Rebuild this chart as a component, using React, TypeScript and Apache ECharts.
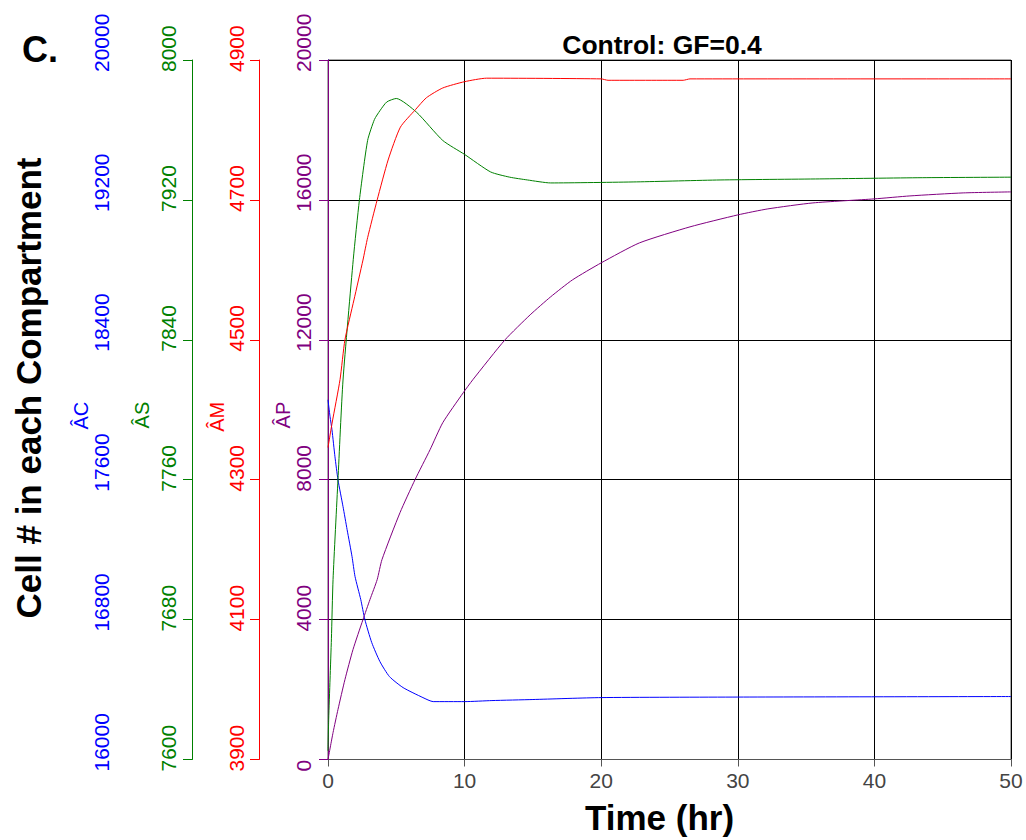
import React, { useEffect, useRef } from "react";
import * as echarts from "echarts";

// ---- data (time in hr, cell counts) ----
const tAC = [0, 0.15, 0.29, 0.51, 0.73, 1.1, 1.4, 1.76, 1.98, 2.4, 2.7, 3.2, 3.8, 4.5, 5.5, 6.95, 7.7, 10, 12, 15, 20, 30, 50];
const vAC = [18057, 17960, 17886, 17731, 17600, 17446, 17314, 17160, 17046, 16914, 16800, 16669, 16560, 16474, 16411, 16354, 16331, 16331, 16337, 16343, 16354, 16357, 16360];

const tAS = [0, 0.05, 0.15, 0.25, 0.37, 0.73, 1.1, 1.85, 2.3, 2.9, 3.4, 3.8, 4.3, 5.0, 6.5, 8.4, 10, 11.9, 13.3, 14.6, 16.3, 22.6, 28.7, 36, 43.5, 50];
const vAS = [7605, 7623, 7646, 7669, 7703, 7760, 7817, 7886, 7920, 7954, 7966, 7971, 7976, 7978, 7970, 7954, 7946, 7936, 7933, 7931.4, 7929.7, 7930.3, 7931.4, 7932, 7932.7, 7933];

const tAM = [0, 0.3, 0.88, 1.24, 1.9, 2.56, 2.9, 3.6, 4.4, 5.3, 6.4, 7.2, 8.4, 10, 11.6, 20, 20.5, 26, 26.5, 50];
const vAM = [4346, 4381, 4443, 4500, 4557, 4614, 4646, 4700, 4757, 4804, 4829, 4846, 4860, 4869, 4874, 4873, 4871, 4871, 4873, 4873];

const tAP = [0, 0.37, 0.73, 1.24, 1.83, 2.56, 3.07, 3.6, 3.95, 5.27, 6.37, 7.47, 8.4, 9.9, 10.6, 12.96, 14.8, 16.3, 17.9, 20, 22.8, 26.5, 30, 32.2, 35.5, 40, 42.6, 46.5, 50];
const vAP = [0, 771, 1429, 2286, 3143, 4000, 4571, 5143, 5714, 7057, 8000, 8857, 9629, 10486, 10857, 12000, 12714, 13229, 13714, 14200, 14771, 15229, 15571, 15743, 15914, 16029, 16114, 16200, 16229];

const xTicks = { min: 0, max: 50, interval: 10 };
const axesDef = [
  { name: "ÂC", color: "#0000ff", min: 16000, max: 20000, interval: 800 },
  { name: "ÂS", color: "#008000", min: 7600, max: 8000, interval: 80 },
  { name: "ÂM", color: "#ff0000", min: 3900, max: 4900, interval: 200 },
  { name: "ÂP", color: "#800080", min: 0, max: 20000, interval: 4000 },
];

const titleText = "Control: GF=0.4";
const panelText = "C.";
const yTitle = "Cell # in each Compartment";
const xTitle = "Time (hr)";

const FONT = "Liberation Sans";

export default function App() {
  const ref = useRef<HTMLDivElement>(null);
  useEffect(() => {
    if (!ref.current) return;
    const chart = echarts.init(ref.current, null, { renderer: "svg" });
    const layout = [
      { offset: 205, labelMargin: 11, nameGap: 32 },
      { offset: 136, labelMargin: 13, nameGap: 40 },
      { offset: 69, labelMargin: 12, nameGap: 32 },
      { offset: 0, labelMargin: 14, nameGap: 35 },
    ];
    const yAxes = axesDef.map((a, i) => ({
      type: "value",
      position: "left",
      offset: layout[i].offset,
      min: a.min,
      max: a.max,
      interval: a.interval,
      name: a.name,
      nameLocation: "middle",
      nameRotate: 90,
      nameGap: layout[i].nameGap,
      nameMoveOverlap: false,
      nameTextStyle: {
        color: a.color,
        fontSize: 20,
        fontFamily: FONT,
        align: "right",
        verticalAlign: "bottom",
        padding: [0, -8, 0, 0],
      },
      axisLine: { show: true, lineStyle: { color: a.color, width: 1 } },
      axisTick: { show: true, inside: false, length: 9, lineStyle: { color: a.color, width: 1 } },
      axisLabel: {
        rotate: 90,
        color: a.color,
        fontSize: 21,
        fontFamily: FONT,
        margin: layout[i].labelMargin,
        align: "left",
        verticalAlign: "bottom",
        hideOverlap: false,
        showMaxLabel: true,
        formatter: (v: number) => `{t|${v}}`,
        rich: {
          t: {
            color: a.color,
            fontSize: 21,
            fontFamily: FONT,
            padding: [0, 0, 0, -12],
          },
        },
      },
      splitLine: { show: i === 3, lineStyle: { color: "#000", width: 1 } },
    }));
    const mk = (t: number[], v: number[]) => t.map((x, k) => [x, v[k]]);
    const seriesData = [mk(tAC, vAC), mk(tAS, vAS), mk(tAM, vAM), mk(tAP, vAP)];
    chart.setOption({
      animation: false,
      backgroundColor: "#fff",
      title: [
        {
          text: titleText,
          left: 657,
          top: 26,
          textAlign: "center",
          textStyle: { fontSize: 26.5, fontWeight: "bold", fontFamily: FONT, color: "#000" },
        },
      ],
      grid: {
        left: 328,
        right: 15,
        top: 60,
        bottom: 80,
        show: true,
        borderColor: "#555",
        borderWidth: 1,
        backgroundColor: "transparent",
      },
      xAxis: {
        type: "value",
        min: xTicks.min,
        max: xTicks.max,
        interval: xTicks.interval,
        name: xTitle,
        nameLocation: "middle",
        nameGap: 58,
        nameMoveOverlap: false,
        nameTextStyle: {
          fontSize: 35,
          fontWeight: "bold",
          fontFamily: FONT,
          color: "#000",
          verticalAlign: "middle",
          padding: [0, 20, 0, 0],
        },
        axisLine: { show: true, onZero: false, lineStyle: { color: "#555", width: 1 } },
        axisTick: { show: true, length: 7, lineStyle: { color: "#555" } },
        axisLabel: { color: "#444", fontSize: 21, fontFamily: FONT, margin: 10 },
        splitLine: { show: true, lineStyle: { color: "#000", width: 1 } },
      },
      yAxis: yAxes,
      graphic: [
        {
          type: "text",
          x: 40,
          y: 49,
          style: {
            text: panelText,
            font: `bold 36px "${FONT}"`,
            fill: "#000",
            align: "center",
            verticalAlign: "middle",
          },
        },
        {
          type: "text",
          x: 28,
          y: 388,
          rotation: Math.PI / 2,
          style: {
            text: yTitle,
            font: `bold 35px "${FONT}"`,
            fill: "#000",
            align: "center",
            verticalAlign: "middle",
          },
        },
      ],
      series: axesDef.map((a, i) => ({
        type: "line",
        name: a.name,
        yAxisIndex: i,
        data: seriesData[i],
        showSymbol: false,
        symbol: "none",
        smooth: 0.2,
        lineStyle: { color: a.color, width: 1 },
        itemStyle: { color: a.color },
        z: 5,
      })),
    });
    return () => chart.dispose();
  }, []);
  return (
    <div
      ref={ref}
      style={{ position: "fixed", left: 0, top: 0, width: 1026, height: 840 }}
    />
  );
}
